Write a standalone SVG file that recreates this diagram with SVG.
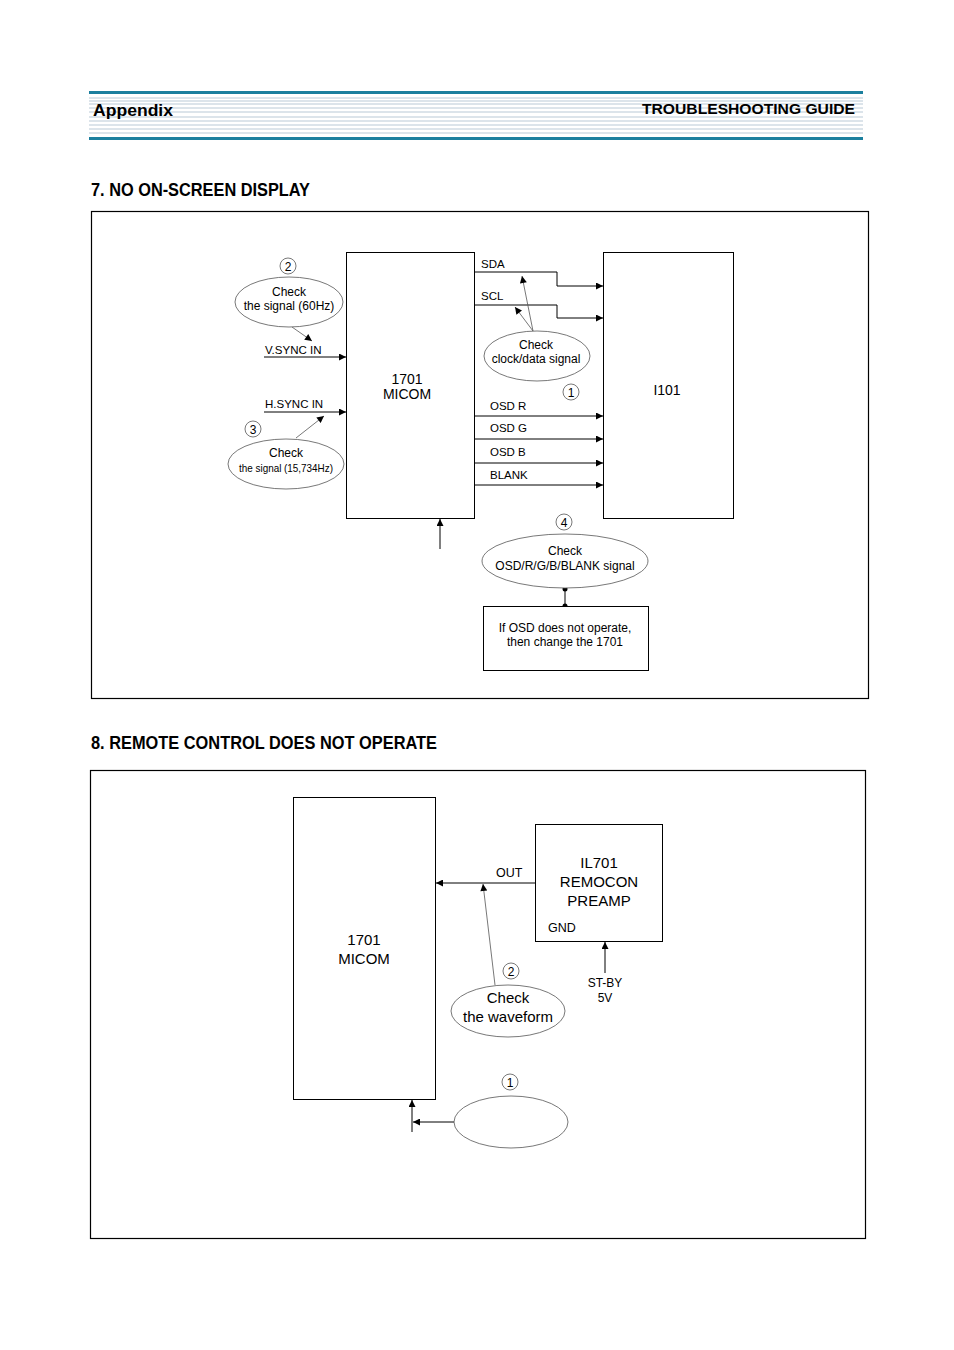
<svg xmlns="http://www.w3.org/2000/svg" width="954" height="1350" viewBox="0 0 954 1350">
<style>
.t{font-family:"Liberation Sans",Arial,sans-serif;fill:#000}
.box{fill:#fff;stroke:#000;stroke-width:1}
.frame{fill:none;stroke:#000;stroke-width:1.2}
.ln{fill:none;stroke:#000;stroke-width:1}
.thin{fill:none;stroke:#555;stroke-width:0.8}
.ell{fill:#fff;stroke:#555;stroke-width:0.8}
.hl{stroke:#b9c9d6;stroke-width:1}
.tb{stroke:#1b7f9e;stroke-width:3}
</style>
<defs>
<marker id="ah" viewBox="0 0 10 10" refX="10" refY="5" markerWidth="12" markerHeight="7" markerUnits="userSpaceOnUse" orient="auto"><path d="M0,0 L10,5 L0,10 z" fill="#000"/></marker>
</defs>
<rect width="954" height="1350" fill="#fff"/>
<g id="header">
<line class="tb" x1="89" y1="92.5" x2="863" y2="92.5"/>
<line class="hl" x1="89" y1="98" x2="863" y2="98"/>
<line class="hl" x1="89" y1="101" x2="863" y2="101"/>
<line class="hl" x1="89" y1="104" x2="863" y2="104"/>
<line class="hl" x1="89" y1="108" x2="863" y2="108"/>
<line class="hl" x1="89" y1="112" x2="863" y2="112"/>
<line class="hl" x1="89" y1="117" x2="863" y2="117"/>
<line class="hl" x1="89" y1="121" x2="863" y2="121"/>
<line class="hl" x1="89" y1="125" x2="863" y2="125"/>
<line class="hl" x1="89" y1="129" x2="863" y2="129"/>
<line class="hl" x1="89" y1="133" x2="863" y2="133"/>
<line class="tb" x1="89" y1="138.5" x2="863" y2="138.5"/>
<text class="t" x="93" y="116" font-size="16" font-weight="bold" textLength="80" lengthAdjust="spacingAndGlyphs">Appendix</text>
<text class="t" x="855" y="114" font-size="15" font-weight="bold" text-anchor="end" textLength="213" lengthAdjust="spacingAndGlyphs">TROUBLESHOOTING GUIDE</text>
</g>

<text class="t" x="91" y="196" font-size="19" font-weight="bold" textLength="219" lengthAdjust="spacingAndGlyphs">7. NO ON-SCREEN DISPLAY</text>
<rect class="frame" x="91.5" y="211.5" width="777" height="487"/>

<g id="connectors7">
<polyline class="ln" points="475,272 557,272 557,286 603,286" marker-end="url(#ah)"/>
<polyline class="ln" points="475,305 557,305 557,318 603,318" marker-end="url(#ah)"/>
<line class="thin" x1="533" y1="331" x2="522" y2="276" marker-end="url(#ah)"/>
<line class="thin" x1="533" y1="331" x2="515" y2="307" marker-end="url(#ah)"/>
<line class="ln" x1="475" y1="416" x2="603" y2="416" marker-end="url(#ah)"/>
<line class="ln" x1="475" y1="439" x2="603" y2="439" marker-end="url(#ah)"/>
<line class="ln" x1="475" y1="463" x2="603" y2="463" marker-end="url(#ah)"/>
<line class="ln" x1="475" y1="485" x2="603" y2="485" marker-end="url(#ah)"/>
<line class="ln" x1="264" y1="357" x2="346" y2="357" marker-end="url(#ah)"/>
<line class="ln" x1="264" y1="412" x2="346" y2="412" marker-end="url(#ah)"/>
<line class="thin" x1="292" y1="327" x2="312" y2="341" marker-end="url(#ah)"/>
<line class="thin" x1="296" y1="438" x2="324" y2="416" marker-end="url(#ah)"/>
<line class="ln" x1="440" y1="549" x2="440" y2="519" marker-end="url(#ah)"/>
<line class="ln" x1="565" y1="589" x2="565" y2="606"/>
<circle cx="565" cy="589" r="2.5" fill="#000"/>
<circle cx="565" cy="606" r="2.5" fill="#000"/>
</g>

<g id="micom7">
<rect class="box" x="346.5" y="252.5" width="128" height="266"/>
<text class="t" x="407" y="384" font-size="14" text-anchor="middle">1701</text>
<text class="t" x="407" y="399" font-size="14" text-anchor="middle">MICOM</text>
</g>
<g id="i101">
<rect class="box" x="603.5" y="252.5" width="130" height="266"/>
<text class="t" x="667" y="395" font-size="14" text-anchor="middle">I101</text>
</g>
<g id="labels7">
<text class="t" x="481" y="268" font-size="11.5">SDA</text>
<text class="t" x="481" y="300" font-size="11.5">SCL</text>
<text class="t" x="490" y="410" font-size="11.5">OSD R</text>
<text class="t" x="490" y="432" font-size="11.5">OSD G</text>
<text class="t" x="490" y="456" font-size="11.5">OSD B</text>
<text class="t" x="490" y="479" font-size="11.5">BLANK</text>
<text class="t" x="265" y="354" font-size="11.5">V.SYNC IN</text>
<text class="t" x="265" y="408" font-size="11.5">H.SYNC IN</text>
</g>
<g id="check-clock">
<ellipse class="ell" cx="537" cy="356" rx="53" ry="25"/>
<text class="t" x="536" y="349" font-size="12" text-anchor="middle">Check</text>
<text class="t" x="536" y="363" font-size="12" text-anchor="middle">clock/data signal</text>
<circle class="ell" cx="571" cy="392" r="8"/>
<text class="t" x="571" y="397" font-size="12" text-anchor="middle">1</text>
</g>
<g id="check-vsync">
<circle class="ell" cx="288" cy="266" r="8"/>
<text class="t" x="288" y="271" font-size="12" text-anchor="middle">2</text>
<ellipse class="ell" cx="289" cy="302" rx="54" ry="25"/>
<text class="t" x="289" y="296" font-size="12" text-anchor="middle">Check</text>
<text class="t" x="289" y="310" font-size="12" text-anchor="middle">the signal (60Hz)</text>
</g>
<g id="check-hsync">
<circle class="ell" cx="253" cy="429" r="8"/>
<text class="t" x="253" y="434" font-size="12" text-anchor="middle">3</text>
<ellipse class="ell" cx="286" cy="464" rx="58" ry="25"/>
<text class="t" x="286" y="457" font-size="12" text-anchor="middle">Check</text>
<text class="t" x="286" y="472" font-size="11" text-anchor="middle" textLength="94" lengthAdjust="spacingAndGlyphs">the signal (15,734Hz)</text>
</g>
<g id="check-osd">
<circle class="ell" cx="564" cy="522" r="8"/>
<text class="t" x="564" y="527" font-size="12" text-anchor="middle">4</text>
<ellipse class="ell" cx="565" cy="561" rx="83" ry="27"/>
<text class="t" x="565" y="555" font-size="12" text-anchor="middle">Check</text>
<text class="t" x="565" y="570" font-size="12" text-anchor="middle">OSD/R/G/B/BLANK signal</text>
</g>
<g id="osd-note">
<rect class="box" x="483.5" y="606.5" width="165" height="64"/>
<text class="t" x="565" y="632" font-size="12" text-anchor="middle">If OSD does not operate,</text>
<text class="t" x="565" y="646" font-size="12" text-anchor="middle">then change the 1701</text>
</g>

<text class="t" x="91" y="749" font-size="19" font-weight="bold" textLength="346" lengthAdjust="spacingAndGlyphs">8. REMOTE CONTROL DOES NOT OPERATE</text>
<rect class="frame" x="90.5" y="770.5" width="775" height="468"/>

<g id="connectors8">
<line class="ln" x1="535" y1="883" x2="436" y2="883" marker-end="url(#ah)"/>
<line class="thin" x1="495" y1="985" x2="483" y2="884" marker-end="url(#ah)"/>
<line class="ln" x1="605" y1="973" x2="605" y2="942" marker-end="url(#ah)"/>
<line class="ln" x1="454" y1="1122" x2="413" y2="1122" marker-end="url(#ah)"/>
<line class="ln" x1="412" y1="1132" x2="412" y2="1100" marker-end="url(#ah)"/>
</g>
<g id="micom8">
<rect class="box" x="293.5" y="797.5" width="142" height="302"/>
<text class="t" x="364" y="945" font-size="15" text-anchor="middle">1701</text>
<text class="t" x="364" y="964" font-size="15" text-anchor="middle">MICOM</text>
</g>
<g id="il701">
<rect class="box" x="535.5" y="824.5" width="127" height="117"/>
<text class="t" x="599" y="868" font-size="15" text-anchor="middle">IL701</text>
<text class="t" x="599" y="887" font-size="15" text-anchor="middle">REMOCON</text>
<text class="t" x="599" y="906" font-size="15" text-anchor="middle">PREAMP</text>
<text class="t" x="548" y="932" font-size="12.5">GND</text>
</g>
<g id="labels8">
<text class="t" x="496" y="877" font-size="12.5">OUT</text>
<text class="t" x="605" y="987" font-size="12" text-anchor="middle">ST-BY</text>
<text class="t" x="605" y="1002" font-size="12" text-anchor="middle">5V</text>
</g>
<g id="check-wave">
<circle class="ell" cx="511" cy="971" r="8"/>
<text class="t" x="511" y="976" font-size="12" text-anchor="middle">2</text>
<ellipse class="ell" cx="508" cy="1011" rx="57" ry="26"/>
<text class="t" x="508" y="1003" font-size="15" text-anchor="middle">Check</text>
<text class="t" x="508" y="1022" font-size="15" text-anchor="middle">the waveform</text>
</g>
<g id="blank-ellipse">
<circle class="ell" cx="510" cy="1082" r="8"/>
<text class="t" x="510" y="1087" font-size="12" text-anchor="middle">1</text>
<ellipse class="ell" cx="511" cy="1122" rx="57" ry="26"/>
</g>
</svg>
